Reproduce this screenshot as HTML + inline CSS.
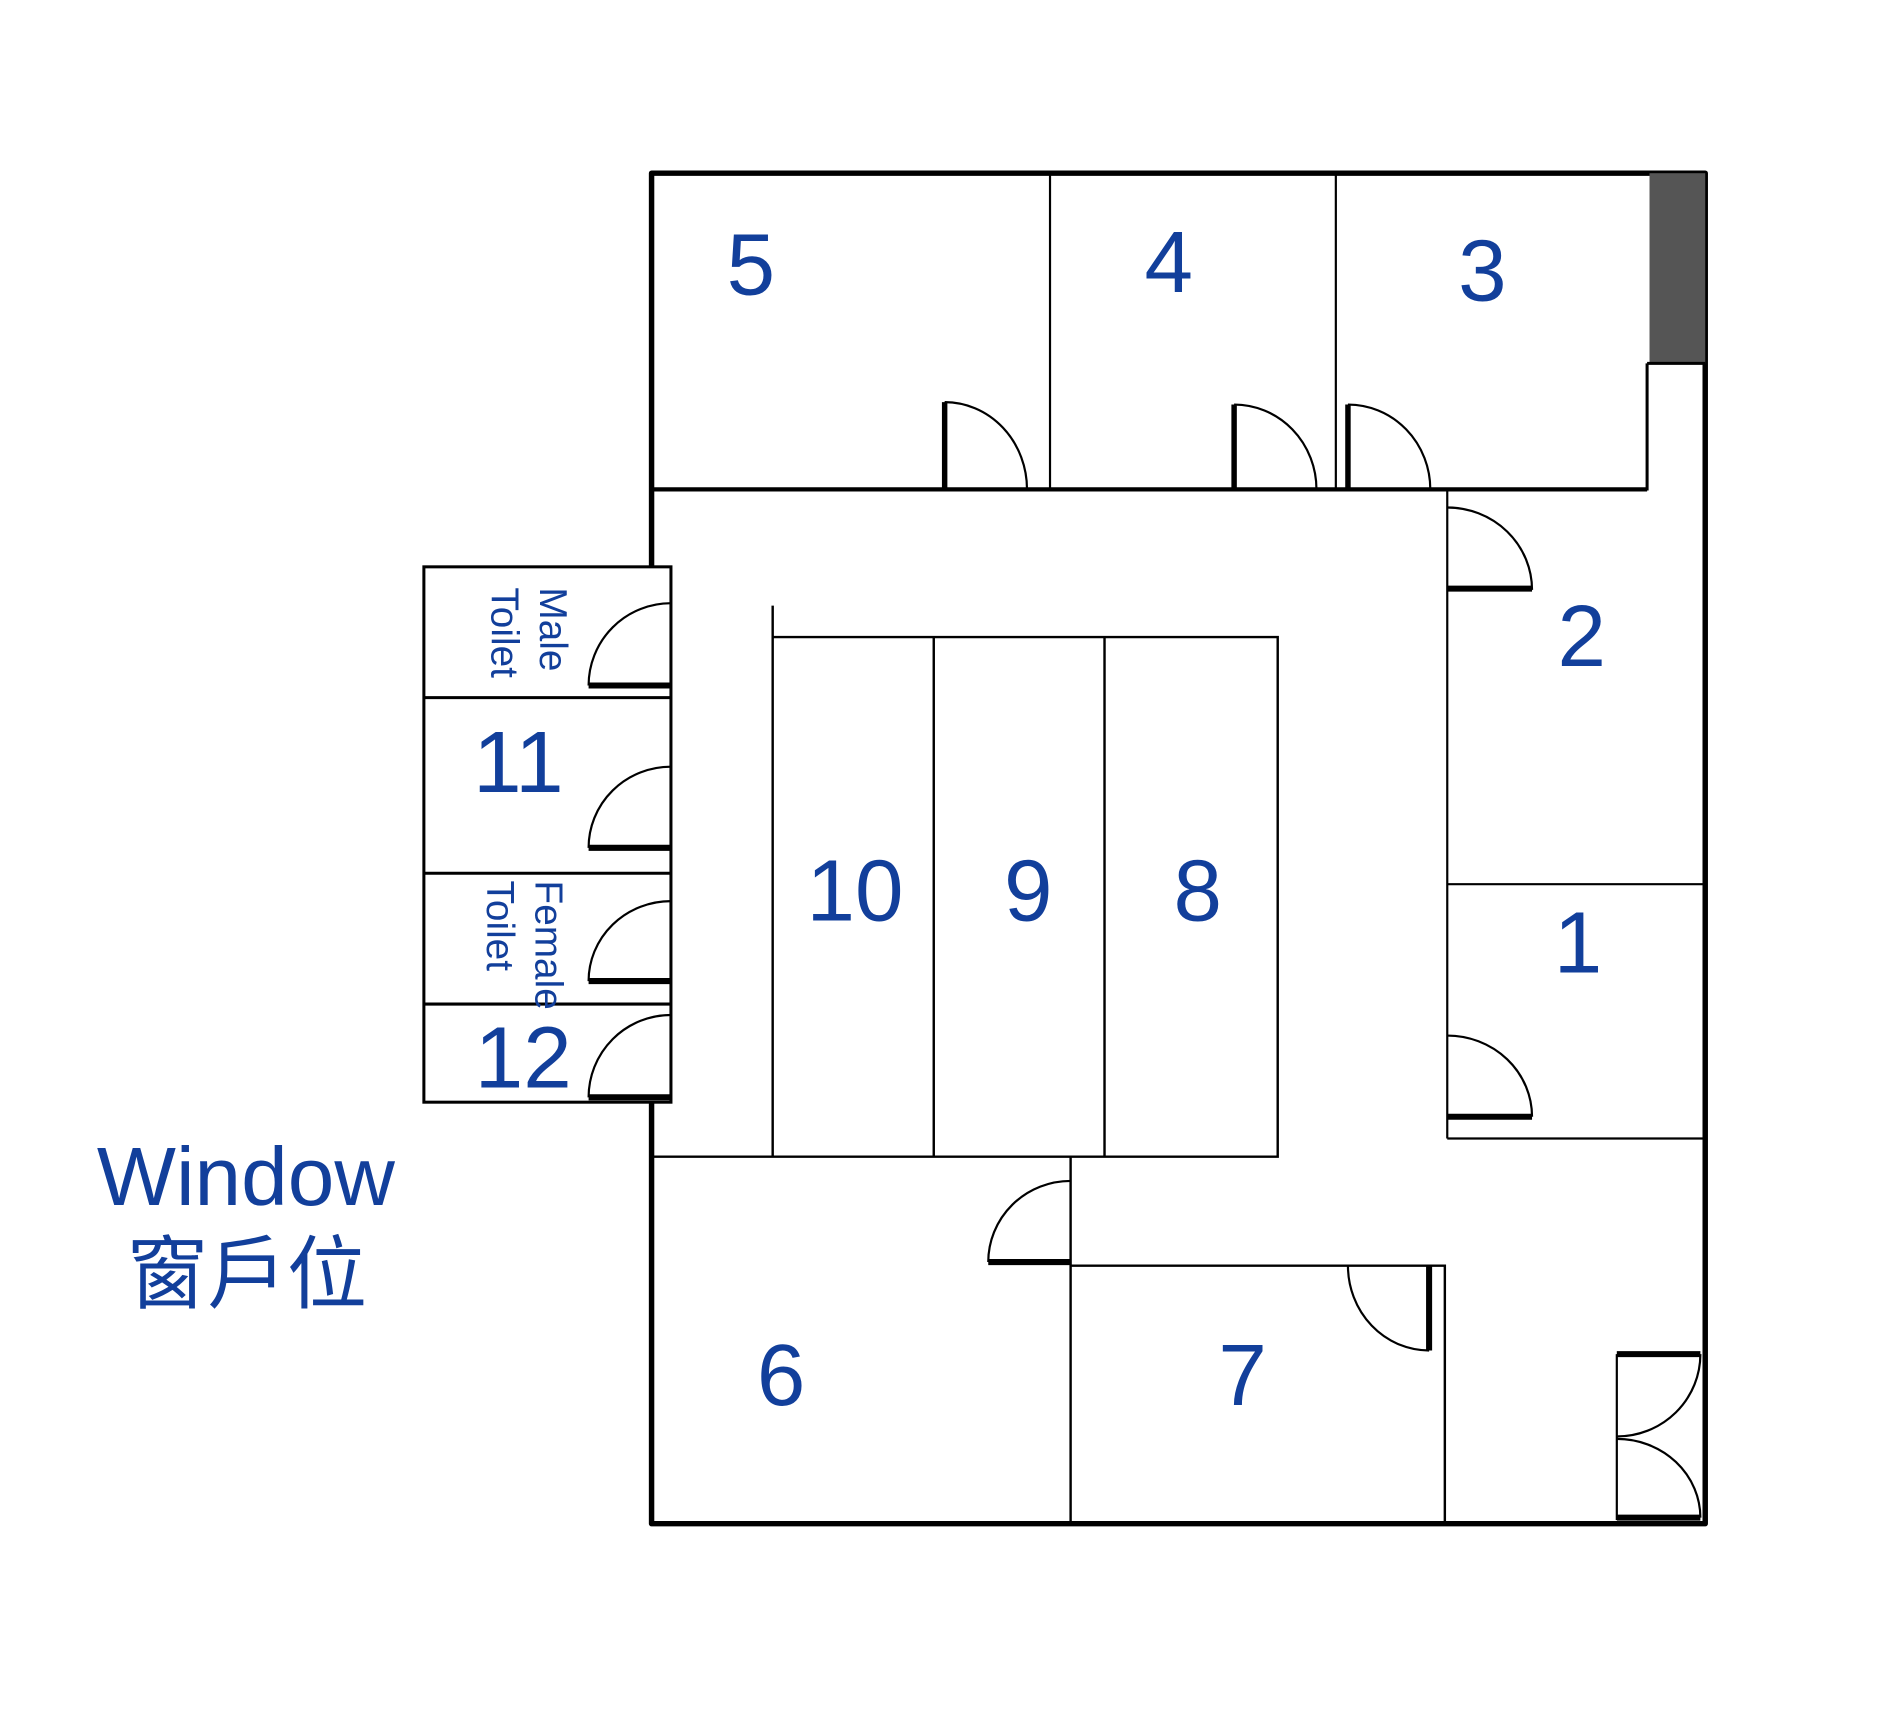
<!DOCTYPE html>
<html><head><meta charset="utf-8"><style>
html,body{margin:0;padding:0;background:#fff;}
svg{display:block;}
text{fill:#123f9b;font-family:"Liberation Sans","Noto Sans CJK TC",sans-serif;}
</style></head><body>
<svg width="1899" height="1732" viewBox="0 0 1568 1430" preserveAspectRatio="none" xmlns="http://www.w3.org/2000/svg">
<g fill="none" stroke="#000" stroke-width="1.8">
<path d="M538,468 V143 H1408 V1258 H538 V910" stroke-width="4.5" stroke-linejoin="round"/>
<rect x="1362" y="143" width="46" height="157" fill="#555" stroke="none"/>
<path d="M1360,300 H1408 M1360,300 V405" stroke-width="2.5"/>
<path d="M538,404 H1360" stroke-width="3.5"/>
<path d="M867,143 V404 M1103,143 V404"/>
<path d="M780,332 V404 M1019,334 V404 M1113,334 V404" stroke-width="4.5"/>
<path d="M780,332 A68,72 0 0 1 848,404 M1019,334 A68,70 0 0 1 1087,404 M1113,334 A68,70 0 0 1 1181,404"/>
<path d="M1195,404 V940 M1195,730 H1408 M1195,940 H1408"/>
<path d="M1195,419 A70,68 0 0 1 1265,487 M1195,855 A70,67 0 0 1 1265,922"/>
<path d="M1195,486 H1265 M1195,922 H1265" stroke-width="5"/>
<rect x="350" y="468" width="204" height="442" stroke-width="2.5"/>
<path d="M350,576 H554 M350,721 H554 M350,829 H554" stroke-width="2.5"/>
<path d="M554,498 A68,68 0 0 0 486,566 M554,633 A68,67 0 0 0 486,700 M554,744 A68,66 0 0 0 486,810 M554,838 A68,68 0 0 0 486,906"/>
<path d="M486,566 H554 M486,700 H554 M486,810 H554 M486,906 H554" stroke-width="5"/>
<path d="M638,500 V955 M638,526 H1055 V955 H538 M771,526 V955 M912,526 V955" stroke-width="2"/>
<path d="M884,955 V1258 M884,1045 H1193 V1258" stroke-width="2"/>
<path d="M884,975 A68,67 0 0 0 816,1042"/>
<path d="M816,1042 H884" stroke-width="5"/>
<path d="M1180,1045 V1115" stroke-width="5"/>
<path d="M1113,1045 A67,70 0 0 0 1180,1115"/>
<path d="M1335,1118 V1255"/>
<path d="M1335,1118 H1404 M1335,1253 H1404" stroke-width="5"/>
<path d="M1404,1118 A69,68 0 0 1 1335,1186 M1335,1188 A69,65 0 0 1 1404,1253"/>
</g>
<g font-size="72" text-anchor="middle">
<text x="620" y="243">5</text>
<text x="965" y="241">4</text>
<text x="1224" y="248">3</text>
<text x="1306" y="550">2</text>
<text x="1303" y="803">1</text>
<text x="706" y="760">10</text>
<text x="849" y="760">9</text>
<text x="989" y="760">8</text>
<text x="645" y="1160">6</text>
<text x="1026" y="1160">7</text>
<text x="428" y="654">11</text>
<text x="432" y="898">12</text>
</g>
<g font-size="32">
<text transform="translate(446,485) rotate(90)">Male</text>
<text transform="translate(406,485) rotate(90)">Toilet</text>
<text transform="translate(442,727) rotate(90)">Female</text>
<text transform="translate(402,727) rotate(90)">Toilet</text>
</g>
<text x="80" y="995" font-size="68" textLength="246" lengthAdjust="spacingAndGlyphs">Window</text>
<text x="105" y="1075" font-size="66" textLength="198" lengthAdjust="spacingAndGlyphs">窗戶位</text>
</svg>
</body></html>
